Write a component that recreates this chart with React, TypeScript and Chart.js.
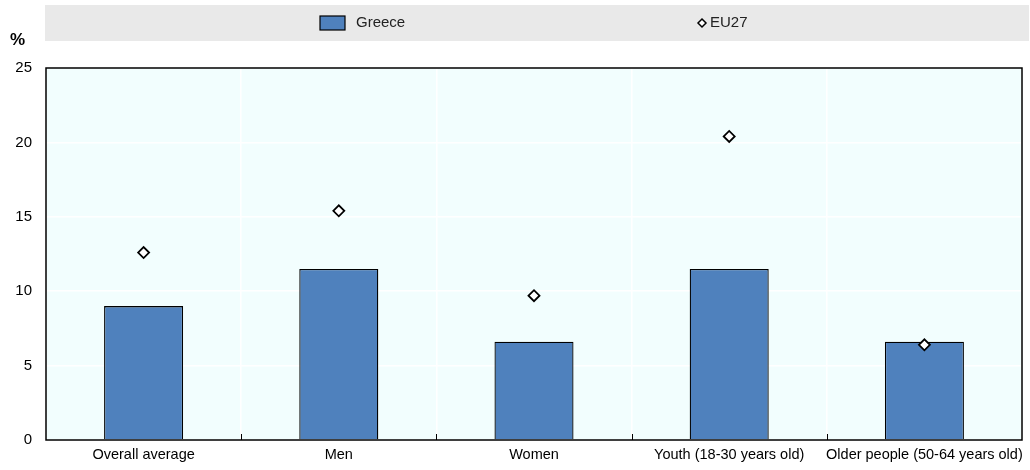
import React, { useEffect, useRef } from "react";
import { Chart, registerables } from "chart.js";

Chart.register(...registerables);

const categories = [
  "Overall average",
  "Men",
  "Women",
  "Youth (18-30 years old)",
  "Older people (50-64 years old)",
];
const greece = [9.0, 11.5, 6.6, 11.5, 6.6];
const eu27 = [12.6, 15.4, 9.7, 20.4, 6.4];
const yTicks = [0, 5, 10, 15, 20, 25];

const FONT = "'Liberation Sans', Arial, sans-serif";
const BLUE = "#4f81bd";

const decorPlugin = {
  id: "decor",
  beforeDraw(chart: any) {
    const { ctx, chartArea } = chart;
    ctx.save();
    // legend box
    ctx.fillStyle = "#e9e9e9";
    ctx.fillRect(45, 5, 984, 36);
    // plot background
    ctx.fillStyle = "#f2fefe";
    ctx.fillRect(chartArea.left, chartArea.top, chartArea.right - chartArea.left, chartArea.bottom - chartArea.top);
    // legend: Greece
    ctx.fillStyle = BLUE;
    ctx.fillRect(320, 16, 25, 14);
    ctx.strokeStyle = "#000";
    ctx.lineWidth = 1.2;
    ctx.strokeRect(320, 16, 25, 14);
    ctx.fillStyle = "#222";
    ctx.font = `15px ${FONT}`;
    ctx.textBaseline = "middle";
    ctx.textAlign = "left";
    ctx.fillText("Greece", 356, 23);
    // legend: EU27
    ctx.beginPath();
    ctx.moveTo(702, 19);
    ctx.lineTo(706, 23);
    ctx.lineTo(702, 27);
    ctx.lineTo(698, 23);
    ctx.closePath();
    ctx.fillStyle = "#fff";
    ctx.fill();
    ctx.lineWidth = 1.5;
    ctx.strokeStyle = "#000";
    ctx.stroke();
    ctx.fillStyle = "#222";
    ctx.fillText("EU27", 710, 23);
    // % label
    ctx.font = `bold 17px ${FONT}`;
    ctx.fillStyle = "#000";
    ctx.fillText("%", 10, 40);
    ctx.restore();
  },
  afterDraw(chart: any) {
    const { ctx, chartArea } = chart;
    ctx.save();
    ctx.strokeStyle = "#000";
    ctx.lineWidth = 1.5;
    ctx.strokeRect(chartArea.left, chartArea.top, chartArea.right - chartArea.left, chartArea.bottom - chartArea.top);
    // small inner ticks at category boundaries
    const n = categories.length;
    const w = (chartArea.right - chartArea.left) / n;
    ctx.lineWidth = 1;
    for (let i = 1; i < n; i++) {
      const x = Math.round(chartArea.left + w * i) + 0.5;
      ctx.beginPath();
      ctx.moveTo(x, chartArea.bottom);
      ctx.lineTo(x, chartArea.bottom - 6);
      ctx.stroke();
    }
    ctx.restore();
  },
};

export default function App() {
  const ref = useRef<HTMLCanvasElement>(null);
  useEffect(() => {
    document.body.style.margin = "0";
    const chart = new Chart(ref.current!, {
      type: "bar",
      data: {
        labels: categories,
        datasets: [
          {
            type: "line",
            label: "EU27",
            data: eu27,
            showLine: false,
            pointStyle: "rectRot",
            pointRadius: 5.5,
            pointBackgroundColor: "#fff",
            pointBorderColor: "#000",
            pointBorderWidth: 1.8,
            order: 0,
          } as any,
          {
            type: "bar",
            label: "Greece",
            data: greece,
            backgroundColor: BLUE,
            borderColor: "#000",
            borderWidth: 1.3,
            categoryPercentage: 1,
            barPercentage: 0.405,
            order: 1,
          },
        ],
      },
      options: {
        animation: false,
        responsive: false,
        layout: { padding: { top: 68, right: 8, left: 0, bottom: 0 } },
        plugins: { legend: { display: false }, tooltip: { enabled: false } },
        scales: {
          x: {
            offset: true,
            grid: { color: "#ffffff", lineWidth: 1.5, drawTicks: false, offset: true },
            border: { display: false },
            ticks: { color: "#000", font: { family: FONT, size: 14.5 }, padding: 6, maxRotation: 0, autoSkip: false },
            afterFit: (s: any) => { s.height = 30; },
          },
          y: {
            min: 0,
            max: 25,
            afterBuildTicks: (s: any) => { s.ticks = yTicks.map((v) => ({ value: v })); },
            grid: { color: "#ffffff", lineWidth: 1.5, drawTicks: false },
            border: { display: false },
            ticks: { color: "#000", font: { family: FONT, size: 15 }, padding: 14 },
            afterFit: (s: any) => { s.width = 46; },
          },
        },
      },
      plugins: [decorPlugin],
    });
    return () => chart.destroy();
  }, []);
  return <canvas ref={ref} width={1030} height={470} style={{ display: "block" }} />;
}
